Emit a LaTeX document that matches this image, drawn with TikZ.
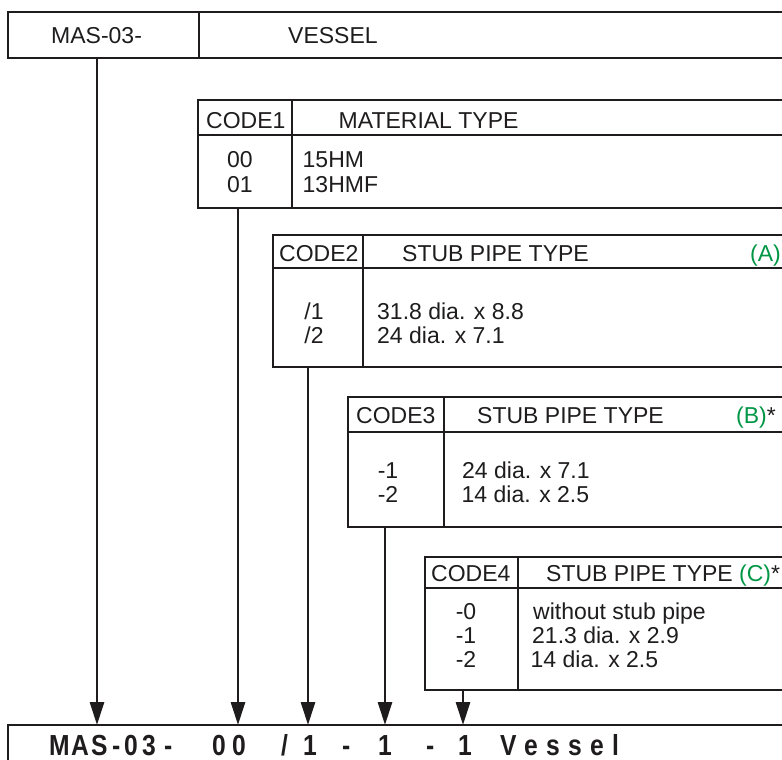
\documentclass[tikz,border=0pt]{standalone}
\usepackage{fontspec}
\setmainfont{Liberation Sans}
\usetikzlibrary{arrows.meta}
\definecolor{codegreen}{RGB}{0,150,70}
\definecolor{ink}{RGB}{30,28,28}
\tikzset{
  boxline/.style={line width=2.8pt, draw=ink, line join=miter},
  arr/.style={line width=2.8pt, draw=ink, -{Triangle[length=23pt,width=14pt]}},
  txt/.style={inner sep=0pt, anchor=base west, text=ink, font=\fontsize{23}{26}\selectfont},
  ctxt/.style={inner sep=0pt, anchor=base, text=ink, font=\fontsize{23}{26}\selectfont},
  btxt/.style={inner sep=0pt, anchor=base west, text=ink, font=\fontsize{29}{33}\selectfont\bfseries},
}
\begin{document}
\begin{tikzpicture}[x=1pt,y=-1pt]
\useasboundingbox (0,0) rectangle (782,760);
\clip (0,0) rectangle (782,760);
% ---- top box
\draw[boxline] (820,12) -- (8,12) -- (8,58) -- (820,58);
\draw[boxline] (199,12) -- (199,58);
\node[txt] (t0a) at (51,43.4) {MAS-03-};
\node[txt] (t0b) at (288,43.4) {VESSEL};
% ---- box 1
\draw[boxline] (820,100) -- (198,100) -- (198,208) -- (820,208);
\draw[boxline] (198,135) -- (820,135);
\draw[boxline] (292,100) -- (292,208);
\node[txt] (h1a) at (206,128.4) {CODE1};
\node[txt] (h1b) at (338.5,128.4) {MATERIAL TYPE};
\node[ctxt] (c1a) at (240,167.5) {00};
\node[ctxt] (c1b) at (240,192.5) {01};
\node[txt] (d1a) at (302.5,167.5) {15HM};
\node[txt] (d1b) at (302.5,192.5) {13HMF};
% ---- box 2
\draw[boxline] (820,235) -- (273,235) -- (273,367) -- (820,367);
\draw[boxline] (273,268) -- (820,268);
\draw[boxline] (363,235) -- (363,367);
\node[txt] (h2a) at (279,261.5) {CODE2};
\node[txt] (h2b) at (402,261.5) {STUB PIPE TYPE};
\node[txt,text=codegreen] (h2c) at (750,261.5) {(A)};
\node[ctxt] (c2a) at (314,319.5) {/1};
\node[ctxt] (c2b) at (314,343.5) {/2};
\node[txt] (d2a) at (377,319.5) {31.8 dia. x 8.8};
\node[txt] (d2b) at (377,343.5) {24 dia. x 7.1};
% ---- box 3
\draw[boxline] (820,397) -- (348,397) -- (348,527) -- (820,527);
\draw[boxline] (348,432) -- (820,432);
\draw[boxline] (444,397) -- (444,527);
\node[txt] (h3a) at (356,423) {CODE3};
\node[txt] (h3b) at (477,423) {STUB PIPE TYPE};
\node[txt] (h3c) at (736,423) {\textcolor{codegreen}{(B)}*};
\node[ctxt] (c3a) at (388,478.5) {-1};
\node[ctxt] (c3b) at (388,502.5) {-2};
\node[txt] (d3a) at (462,478.5) {24 dia. x 7.1};
\node[txt] (d3b) at (461.5,502.5) {14 dia. x 2.5};
% ---- box 4
\draw[boxline] (820,557) -- (425,557) -- (425,690) -- (820,690);
\draw[boxline] (425,588) -- (820,588);
\draw[boxline] (518,557) -- (518,690);
\node[txt] (h4a) at (431,581) {CODE4};
\node[txt] (h4b) at (546,581) {STUB PIPE TYPE \textcolor{codegreen}{(C)}*};
\node[ctxt] (c4a) at (466,619.5) {-0};
\node[ctxt] (c4b) at (466,643.5) {-1};
\node[ctxt] (c4c) at (466,667.5) {-2};
\node[txt] (d4a) at (533,619.5) {without stub pipe};
\node[txt] (d4b) at (532,643.5) {21.3 dia. x 2.9};
\node[txt] (d4c) at (530.5,667.5) {14 dia. x 2.5};
% ---- bottom box
\coordinate (bb) at (8,725);
\draw[boxline] (820,725) -- (bb) -- (8,820);
\foreach \ch/\xx [count=\i] in {M/49,A/71,S/91,-/112,0/124,3/142,-/164,0/212,0/232,1/303,-/342,1/378,-/426,1/458,V/500,e/524,s/546,s/568,e/590,l/612}
  \node[btxt] (bt\i) at (\xx,755) {\scalebox{0.85}[1]{\ch}};
\node[btxt] (btslash) at (281,755) {\scalebox{0.85}[1]{/}};
% ---- connectors
\coordinate (s0) at (97,58);
\coordinate (s1) at (238,208);
\coordinate (s2) at (308,367);
\coordinate (s3) at (385,527);
\coordinate (s4) at (463,690);
\foreach \s in {s0,s1,s2,s3,s4}
  \draw[arr] (\s) -- (\s |- bb);
\end{tikzpicture}
\end{document}
